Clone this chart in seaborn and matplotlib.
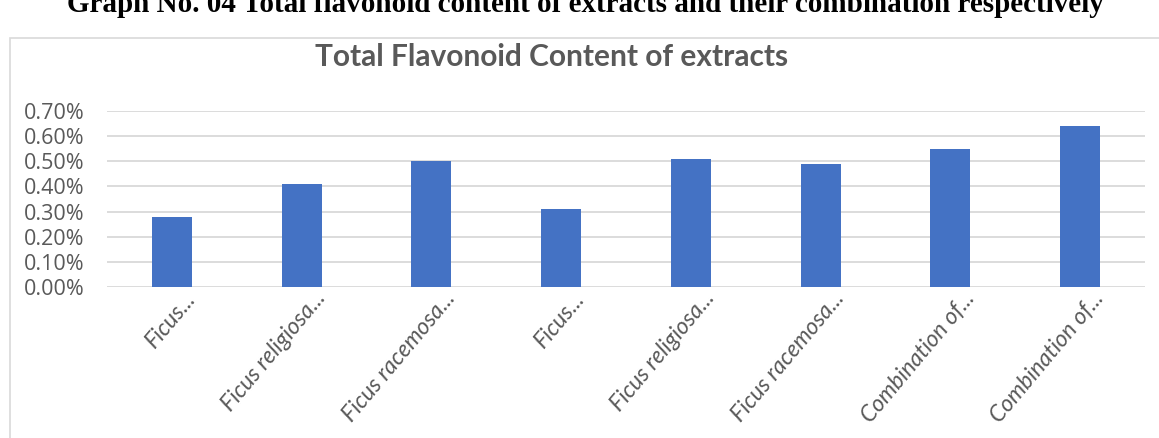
import numpy as np
import pandas as pd
import matplotlib
matplotlib.use("Agg")
import matplotlib.pyplot as plt
import seaborn as sns
from matplotlib.patches import Rectangle
from matplotlib.ticker import FuncFormatter, MultipleLocator
import matplotlib.transforms as mtransforms

# Data
extracts = ["Ficus...", "Ficus religiosa...", "Ficus racemosa...", "Ficus...",
            "Ficus religiosa...", "Ficus racemosa...", "Combination of...",
            "Combination of..."]
flavonoid_pct = [0.28, 0.41, 0.50, 0.31, 0.51, 0.49, 0.55, 0.64]

chart_title = "Total Flavonoid Content of extracts"
page_caption = "Graph No. 04 Total flavonoid content of extracts and their combination respectively"

BAR_COLOR = "#4472C4"
TEXT_GRAY = "#595959"
GRID_GRAY = "#D9D9D9"


def main():
    W, H = 1159, 438
    fig = plt.figure(figsize=(W / 100, H / 100), dpi=100)

    # chart frame (Excel chart area border)
    fig.patches.append(Rectangle((10 / W, -0.1), 1.2, 1 - 38 / H + 0.1,
                                 transform=fig.transFigure, fill=False,
                                 edgecolor="#D9D9D9", linewidth=1.2))

    # page caption, cut off at the top in the original
    fig.text(585 / W, 1 - 12 / H, page_caption, ha="center", va="baseline",
             fontsize=21, fontweight="bold", family="Liberation Serif",
             color="black")

    ax = fig.add_axes([107 / W, 1 - 287 / H, (1145 - 107) / W, (287 - 111) / H])

    # unique ids so repeated names stay separate bars
    df = pd.DataFrame({"idx": [str(i) for i in range(len(extracts))],
                       "value": flavonoid_pct})
    sns.barplot(data=df, x="idx", y="value", color=BAR_COLOR, saturation=1,
                width=0.31, ax=ax, zorder=3)

    ax.set_ylim(0, 0.7)
    ax.set_xlim(-0.5, len(extracts) - 0.5)
    ax.yaxis.set_major_locator(MultipleLocator(0.1))
    ax.yaxis.set_major_formatter(FuncFormatter(lambda v, p: f"{v:.2f}%"))
    ax.grid(axis="y", color=GRID_GRAY, linewidth=1.3, zorder=0)
    ax.set_axisbelow(True)
    for s in ax.spines.values():
        s.set_visible(False)
    ax.tick_params(axis="both", length=0)
    ax.tick_params(axis="y", labelsize=15.5, labelcolor=TEXT_GRAY, pad=16)
    for lab in ax.get_yticklabels():
        lab.set_family("Open Sans")

    ax.set_xticks(range(len(extracts)))
    offset = mtransforms.ScaledTranslation(0.12, 0.04, fig.dpi_scale_trans)
    ax.set_xticklabels(extracts, rotation=50, ha="right",
                       rotation_mode="anchor", fontsize=16.5, color=TEXT_GRAY,
                       style="italic", family="Lato")
    for lab in ax.get_xticklabels():
        lab.set_transform(lab.get_transform() + offset)
    ax.set_xlabel("")
    ax.set_ylabel("")

    fig.text(552 / W, 1 - 57 / H, chart_title, ha="center", va="center",
             fontsize=21.5, fontweight="bold", family="Lato", color=TEXT_GRAY)

    fig.savefig("out.png", dpi=100)
    plt.close(fig)


if __name__ == "__main__":
    main()
